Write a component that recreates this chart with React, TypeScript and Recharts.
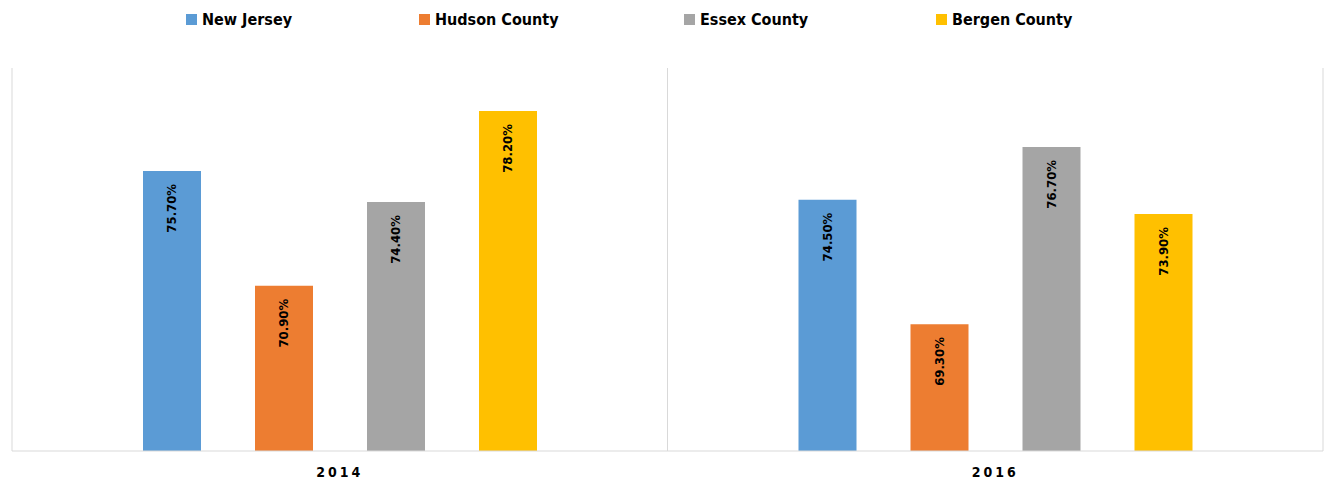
import React from "react";
import { BarChart, Bar, XAxis, YAxis, CartesianGrid, Legend, LabelList } from "recharts";

const years = ["2014", "2016"];
const newJersey = [75.7, 74.5];
const hudsonCounty = [70.9, 69.3];
const essexCounty = [74.4, 76.7];
const bergenCounty = [78.2, 73.9];

const SERIES = [
  { key: "nj", name: "New Jersey", color: "#5B9BD5", values: newJersey, slot: 233 },
  { key: "hudson", name: "Hudson County", color: "#ED7D31", values: hudsonCounty, slot: 265 },
  { key: "essex", name: "Essex County", color: "#A5A5A5", values: essexCounty, slot: 252 },
  { key: "bergen", name: "Bergen County", color: "#FFC000", values: bergenCounty, slot: 160 },
];

const FONT = "'Liberation Sans Narrow', 'DejaVu Sans Condensed', Roboto, sans-serif";

const data = years.map((year, i) => {
  const row: Record<string, string | number> = { year };
  SERIES.forEach((s) => {
    row[s.key] = s.values[i];
  });
  return row;
});

function TopLegend() {
  return (
    <div
      style={{
        height: 38,
        display: "flex",
        alignItems: "flex-start",
        paddingLeft: 186,
        paddingTop: 10,
        boxSizing: "border-box",
        fontFamily: FONT,
        fontWeight: 700,
        fontSize: 16,
        color: "#000",
      }}
    >
      {SERIES.map((s) => (
        <div key={s.key} style={{ display: "flex", alignItems: "center", width: s.slot, flex: "none" }}>
          <span style={{ width: 11, height: 11, background: s.color, marginRight: 5, display: "inline-block" }} />
          <span>{s.name}</span>
        </div>
      ))}
    </div>
  );
}

function RotatedLabel(props: any) {
  const { x, y, width, value } = props;
  const cx = x + width / 2;
  const top = y + 13;
  return (
    <text
      x={cx}
      y={top}
      transform={`rotate(-90, ${cx}, ${top})`}
      textAnchor="end"
      dominantBaseline="central"
      fontFamily={FONT}
      fontWeight={700}
      fontSize={13}
      fill="#000"
    >
      {`${Number(value).toFixed(2)}%`}
    </text>
  );
}

export default function App() {
  return (
    <div style={{ position: "absolute", left: 0, top: 0, background: "#fff" }}>
      <BarChart
        width={1324}
        height={483}
        data={data}
        margin={{ top: 30, right: 1, left: 12, bottom: 0 }}
        barCategoryGap={131}
        barGap={54}
      >
        <CartesianGrid
          horizontal={false}
          stroke="#d9d9d9"
          verticalCoordinatesGenerator={({ offset }: any) => [
            offset.left,
            offset.left + offset.width / 2,
            offset.left + offset.width,
          ]}
        />
        <XAxis
          dataKey="year"
          height={32}
          tickLine={false}
          tickSize={0}
          tickMargin={16}
          axisLine={{ stroke: "#d9d9d9" }}
          tick={{ fill: "#000", fontSize: 14, fontWeight: 700, fontFamily: FONT, letterSpacing: 3 }}
        />
        <YAxis hide domain={[64, 80]} />
        <Legend
          verticalAlign="top"
          align="left"
          wrapperStyle={{ top: 0, left: 0 }}
          content={() => <TopLegend />}
        />
        {SERIES.map((s) => (
          <Bar key={s.key} dataKey={s.key} name={s.name} fill={s.color} barSize={58} isAnimationActive={false}>
            <LabelList dataKey={s.key} content={<RotatedLabel />} />
          </Bar>
        ))}
      </BarChart>
    </div>
  );
}
